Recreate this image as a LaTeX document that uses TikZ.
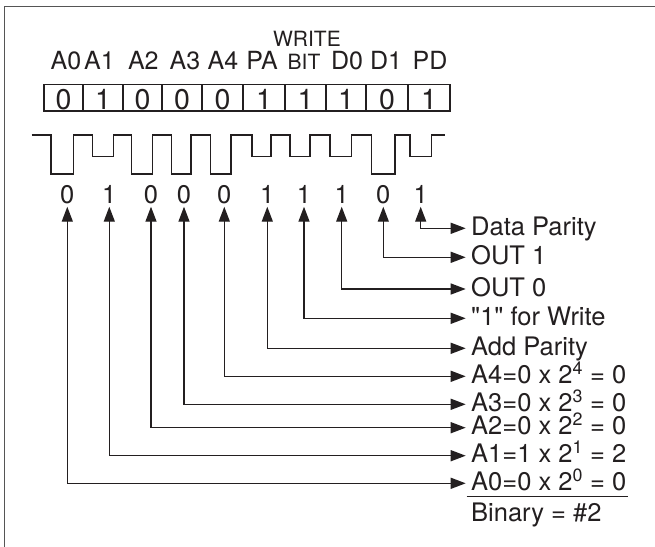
\documentclass[tikz,border=0pt]{standalone}
\usepackage{fontspec}
\setmainfont{TeX Gyre Heros}
\usetikzlibrary{arrows.meta}
\definecolor{ink}{HTML}{231F20}
\definecolor{framec}{HTML}{555555}
\begin{document}
\begin{tikzpicture}[x=1pt,y=-1pt,
  lbl/.style={font=\fontsize{25}{26}\selectfont, text=ink, inner sep=0pt, anchor=base},
  sml/.style={font=\fontsize{21}{22}\selectfont, text=ink, inner sep=0pt, anchor=base},
  bitd/.style={font=\fontsize{28.5}{29}\selectfont, text=ink, inner sep=0pt, anchor=base},
  rowd/.style={font=\fontsize{25.5}{26}\selectfont, text=ink, inner xsep=0pt, inner ysep=2.7pt, text height=17pt, text depth=0pt, anchor=south},
  desc/.style={font=\fontsize{25.5}{26}\selectfont, text=ink, inner xsep=5.3pt, inner ysep=0pt, text height=18pt, text depth=4pt, anchor=west},
  conn/.style={draw=ink, line width=1.4pt, {Triangle[length=15pt,width=11pt]}-{Triangle[length=15pt,width=11pt]}},
  wave/.style={draw=ink, line width=1.5pt, line join=miter},
  cell/.style={draw=ink, line width=1.2pt}
]
\useasboundingbox (0,0) rectangle (655,546);
% frame
\draw[framec, line width=1.5pt] (4.7,560) -- (4.7,6.7) -- (670,6.7);

% top labels
\node[lbl] (hA0) at (66,69.5) {A0};
\node[lbl] (hA1) at (99.5,69.5) {A1};
\node[lbl] (hA2) at (143.3,69.5) {A2};
\node[lbl] (hA3) at (185,69.5) {A3};
\node[lbl] (hA4) at (223,69.5) {A4};
\node[lbl] (hPA) at (262,69.5) {PA};
\node[sml] (hBIT) at (304,69.5) {BIT};
\node[sml] (hWR) at (307,46) {WRITE};
\node[lbl] (hD0) at (347,69.5) {D0};
\node[lbl] (hD1) at (386,69.5) {D1};
\node[lbl] (hPD) at (430,69.5) {PD};

% bit cells
\draw[cell] (44,84.5) rectangle (450,111);
\foreach \x in {83,123,162,202,243,285,326,366,408}
  \draw[cell] (\x,84.5) -- (\x,111);
\node[bitd] (b0) at (63.5,109.5) {0};
\node[bitd] (b1) at (103,109.5) {1};
\node[bitd] (b2) at (142.5,109.5) {0};
\node[bitd] (b3) at (182,109.5) {0};
\node[bitd] (b4) at (222.5,109.5) {0};
\node[bitd] (b5) at (264,109.5) {1};
\node[bitd] (b6) at (305.5,109.5) {1};
\node[bitd] (b7) at (346,109.5) {1};
\node[bitd] (b8) at (387,109.5) {0};
\node[bitd] (b9) at (429,109.5) {1};

% waveform
\draw[wave] (31.7,135) -- (51,135) -- (51,174) -- (73.3,174) -- (73.3,135)
  -- (92.7,135) -- (92.7,156.7) -- (113.3,156.7) -- (113.3,135)
  -- (131.7,135) -- (131.7,174) -- (152.7,174) -- (152.7,135)
  -- (171.7,135) -- (171.7,174) -- (191,174) -- (191,135)
  -- (210.5,135) -- (210.5,174) -- (231,174) -- (231,135)
  -- (252,135) -- (252,156.7) -- (271,156.7) -- (271,135)
  -- (290,135) -- (290,156.7) -- (310,156.7) -- (310,135)
  -- (330,135) -- (330,156.7) -- (351.7,156.7) -- (351.7,135)
  -- (371.7,135) -- (371.7,174) -- (395,174) -- (395,135)
  -- (410,135) -- (410,156.7) -- (431.7,156.7) -- (431.7,135)
  -- (445,135);

% decoded digits
\node[rowd] (r0) at (67.3,206.7) {0};
\node[rowd] (r1) at (109.3,206.7) {1};
\node[rowd] (r2) at (151,206.7) {0};
\node[rowd] (r3) at (184,206.7) {0};
\node[rowd] (r4) at (224.3,206.7) {0};
\node[rowd] (r5) at (267.3,206.7) {1};
\node[rowd] (r6) at (304,206.7) {1};
\node[rowd] (r7) at (341.7,206.7) {1};
\node[rowd] (r8) at (383.3,206.7) {0};
\node[rowd] (r9) at (420.7,206.7) {1};

% descriptions
\node[desc] (t9) at (465.7,228.3) {Data Parity};
\node[desc] (t8) at (465.7,257.3) {OUT 1};
\node[desc] (t7) at (465.7,289) {OUT 0};
\node[desc] (t6) at (465.7,318.3) {\textquotedbl 1\textquotedbl{} for Write};
\node[desc] (t5) at (465.7,348.3) {Add Parity};
\node[desc] (t4) at (465.7,376.3) {A4=0 x 2\textsuperscript{4} = 0};
\node[desc] (t3) at (465.7,404.3) {A3=0 x 2\textsuperscript{3} = 0};
\node[desc] (t2) at (465.7,427.7) {A2=0 x 2\textsuperscript{2} = 0};
\node[desc] (t1) at (465.7,455.7) {A1=1 x 2\textsuperscript{1} = 2};
\node[desc] (t0) at (465.7,483.3) {A0=0 x 2\textsuperscript{0} = 0};

\foreach \i in {0,...,9}
  \draw[conn] (r\i.south) |- (t\i.west);

% sum line and result
\coordinate (sumL) at (466.7,496.7);
\coordinate (sumR) at (627.7,496.7);
\draw[ink, line width=1.4pt] (sumL) -- (sumR);
\node[font=\fontsize{25.5}{26}\selectfont, text=ink, inner sep=0pt, anchor=base west] (bin) at (471,521.7) {Binary = \#2};
\end{tikzpicture}
\end{document}
